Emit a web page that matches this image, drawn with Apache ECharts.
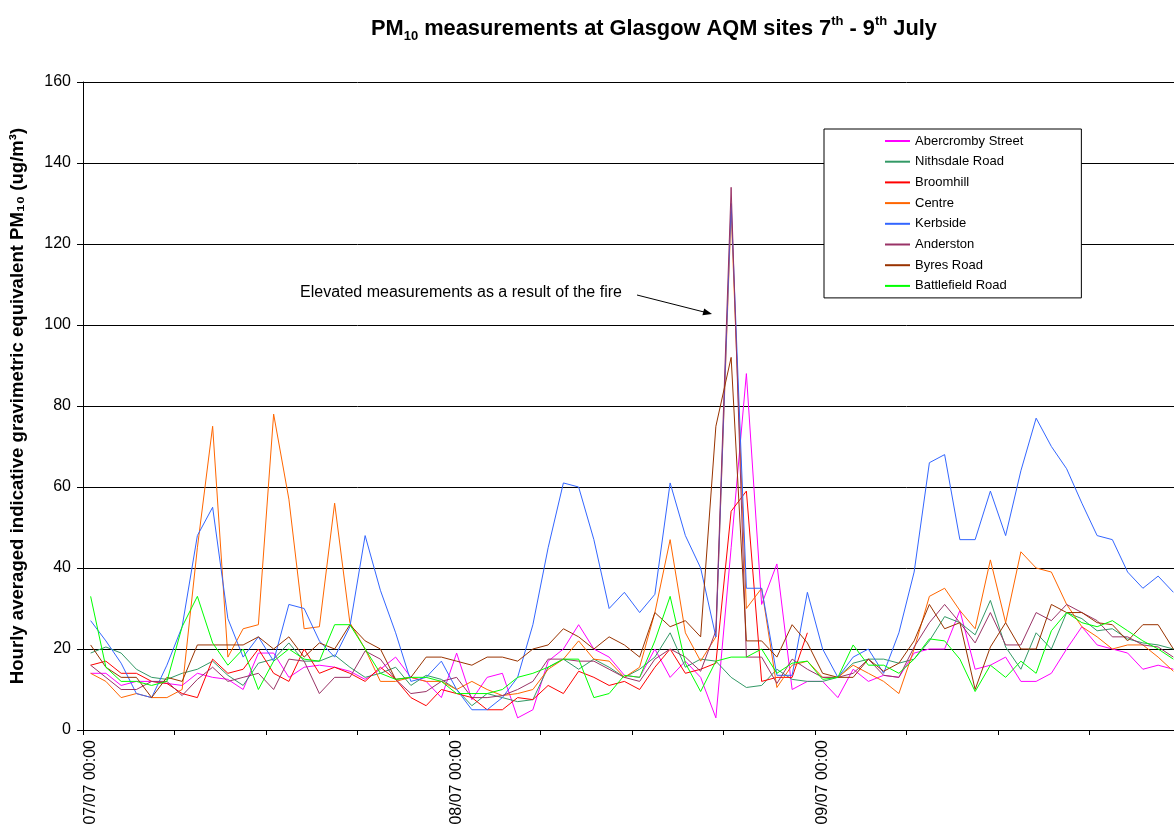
<!DOCTYPE html>
<html>
<head>
<meta charset="utf-8">
<script src="https://cdn.jsdelivr.net/npm/echarts@6/dist/echarts.min.js"></script>
<style>
  html, body { margin: 0; padding: 0; background: #fff; overflow: hidden; }
  #main { width: 1200px; height: 838px; }
</style>
</head>
<body>
<div id="main"></div>
<script>
// hourly readings, 07/07 00:00 .. 09/07 23:00
var days = ['07/07', '08/07', '09/07'];
var siteNames = ['Abercromby Street', 'Nithsdale Road', 'Broomhill', 'Centre', 'Kerbside', 'Anderston', 'Byres Road', 'Battlefield Road'];
var siteColors = ['#ff00ff', '#339966', '#ff0000', '#ff6600', '#3366ff', '#993366', '#993300', '#00ff00'];

var abercromby = [14,14,11,12,12,11.5,11,14,13,12.5, 10,19,19,13,15.5,16,15.5,14.5,12.5,15, 18,13,12,8,19,7.5,13,14,3,5, 17,20,26,20,18,13.5,13,20,13,17, 13,3,45,88,31,41,10,12,12,8, 15,12,13.5,13,19,20,20,29.5,15,16, 18,12,12,14,20,25.5,21,20,19,15, 16,15];
var nithsdale = [19,20.5,19,15,13,12.5,14,15,17,13.5, 11,16.5,17.5,21.5,17,17,18.5,15.5,13,14, 15.5,11,13.5,12.5,10,6,9,8,7,7.5, 15.5,17.5,15,17.5,15.5,13,15,18,24,15.5, 17.5,17,13,10.5,11,15,12.5,12,12,13, 16.5,17.5,17.5,16.5,17.5,22,28,26.5,23.5,32, 20.5,15,24,20,29,27.5,24.5,25,22.5,21.5, 21,20];
var broomhill = [16,17,14,14,12,11.5,9,8,17.5,14, 15,20,14,12,20,14,15.5,14,12,15.5, 12.5,8,6,10,9,8,5,5,8,7.5, 11,9,14.5,13,11,12,10,15.5,20,14, 15,16.5,54,59,12,13,13,24,null,null, null,null,null,null,null,null,null,null,null,null, null,null,null,null,null,null,null,null,null,null, null,null];
var centre = [14,12,8,9,8,8,10,45,75,18, 25,26,78,57,25,25.5,56,26.5,20,12, 12,13,12,12,10,12,10,8.5,9,10, 15,17.5,22,17.5,17,13,15.5,29,47,24, 17,23,128,30,35,10.5,16,17,13,13, 16,14,12,9,20,33,35,29.5,25,42, 26.5,44,40,39,31,25.5,23,20,21,21, 18,14.5];
var kerbside = [27,22,16.5,9,8,16,25.5,48,55,27.5, 18,23,17,31,30,22,18,25.5,48,34.5, 24,12,13,17,10,5,5,8,13,26, 45,61,60,47,30,34,29,33.5,61,48, 40,23,130,35,35,13.5,13.5,34,20,13, 18,20,14,24,39,66,68,47,47,59, 48,64,77,70,64.5,56,48,47,39,35, 38,34];
var anderston = [16,13,10,10,12,12,8.5,12.5,15.5,12, 13,14,10,17.5,17,9,13,13,19.5,17.5, 12.5,9,9.5,12,13,8,8,8.5,10,12, 17.5,17.5,17,17,15,13,12,17.5,20,18, 14.5,24.5,134,18,18,11.5,17.5,15,13,13, 14,17.5,13.5,13,20.5,26.5,31,26.5,21.5,29, 21,21,29,27,31,29,27,23,23,21, 20.5,18];
var byres = [21,15.5,13,13,8,13,12,21,21,21, 21,23,20,23,18,21.5,20,26,22,20, 12.5,13,18,18,17,16,18,18,17,20, 21,25,23,20,23,21,18,29,25.5,27, 23,75,92,22,22,18,26,21.5,14,13, 13,17.5,14.5,16.5,22,31,25,26.5,10,20.5, 26.5,20,20,31,29,29,26.5,26,22,26, 26,20];
var battlefield = [33,15.5,12,12,11,12,25.5,33,21.5,16, 20,10,17,20,17.5,17,26,26,20,14, 12.5,13,13,12,9,9,9,10,13,14, 15.5,17.5,17.5,8,9,13.5,13,22,33,16.5, 9.5,17,18,18,20,14,16.5,17,12.5,13, 21,16,16,14,17.5,22.5,22,17.5,9.5,16, 13,17,14,24.5,29,26.5,25.5,27,24.5,22, 20,17.5];

var siteValues = [abercromby, nithsdale, broomhill, centre, kerbside, anderston, byres, battlefield];

var categories = [];
days.forEach(function (d) {
    for (var h = 0; h < 24; h++) {
        categories.push(d + ' ' + (h < 10 ? '0' + h : h) + ':00');
    }
});

var FONT = '"Liberation Sans", Arial, sans-serif';

// the plot runs a little past the right edge of the window, as in the original
var myChart = echarts.init(document.getElementById('main'));

var series = siteNames.map(function (name, i) {
    return {
        name: name,
        type: 'line',
        data: siteValues[i],
        symbol: 'none',
        connectNulls: false,
        lineStyle: { width: 1, color: siteColors[i] },
        itemStyle: { color: siteColors[i] }
    };
});

var option = {
    animation: false,
    backgroundColor: '#fff',
    title: {
        left: 366,
        top: 10,
        text: '{b|PM}{s|10}{b| measurements at Glasgow AQM sites 7}{p|th}{b| - 9}{p|th}{b| July}',
        textStyle: {
            rich: {
                b: { fontFamily: FONT, fontSize: 21.8, fontWeight: 'bold', color: '#000', lineHeight: 28, verticalAlign: 'middle' },
                s: { fontFamily: FONT, fontSize: 13, fontWeight: 'bold', color: '#000', lineHeight: 28, verticalAlign: 'bottom' },
                p: { fontFamily: FONT, fontSize: 13, fontWeight: 'bold', color: '#000', lineHeight: 28, verticalAlign: 'top' }
            }
        }
    },
    legend: {
        orient: 'vertical',
        left: 824,
        top: 129,
        padding: [5, 58, 5, 61],
        itemGap: 6.7,
        itemWidth: 25,
        itemHeight: 2,
        icon: 'rect',
        backgroundColor: '#fff',
        borderColor: '#000',
        borderWidth: 1,
        textStyle: { fontFamily: FONT, fontSize: 13, color: '#000', lineHeight: 14 },
        data: siteNames
    },
    grid: { left: 82, top: 82, bottom: 108, right: 19, containLabel: false },
    xAxis: {
        type: 'category',
        data: categories,
        boundaryGap: true,
        axisLine: { show: true, lineStyle: { color: '#000', width: 1 } },
        axisTick: {
            show: true,
            length: 5,
            lineStyle: { color: '#000', width: 1 },
            interval: function (idx) { return idx % 6 === 0; }
        },
        axisLabel: {
            rotate: 90,
            fontFamily: FONT,
            fontSize: 16,
            color: '#000',
            margin: 10,
            interval: function (idx) { return idx % 24 === 0; }
        },
        splitLine: { show: false }
    },
    yAxis: {
        type: 'value',
        min: 0,
        max: 160,
        interval: 20,
        name: 'Hourly averaged indicative gravimetric equivalent PM\u2081\u2080 (ug/m\u00b3)',
        nameLocation: 'middle',
        nameGap: 56,
        nameTextStyle: { fontFamily: FONT, fontSize: 18.6, fontWeight: 'bold', color: '#000' },
        axisLine: { show: true, lineStyle: { color: '#000', width: 1 } },
        axisTick: { show: true, length: 6, lineStyle: { color: '#000', width: 1 } },
        axisLabel: { fontFamily: FONT, fontSize: 16, color: '#000', margin: 12 },
        splitLine: { lineStyle: { color: '#000', width: 1 } }
    },
    graphic: [
        {
            type: 'text',
            left: 300,
            top: 285,
            style: { text: 'Elevated measurements as a result of the fire', font: '16px ' + FONT, fill: '#000' }
        },
        {
            type: 'line',
            shape: { x1: 637, y1: 295, x2: 704, y2: 312 },
            style: { stroke: '#000', lineWidth: 1 }
        },
        {
            type: 'polygon',
            shape: { points: [[712, 314], [702.4, 315.2], [704.2, 308.4]] },
            style: { fill: '#000' }
        }
    ],
    series: series
};

myChart.setOption(option);
</script>
</body>
</html>
